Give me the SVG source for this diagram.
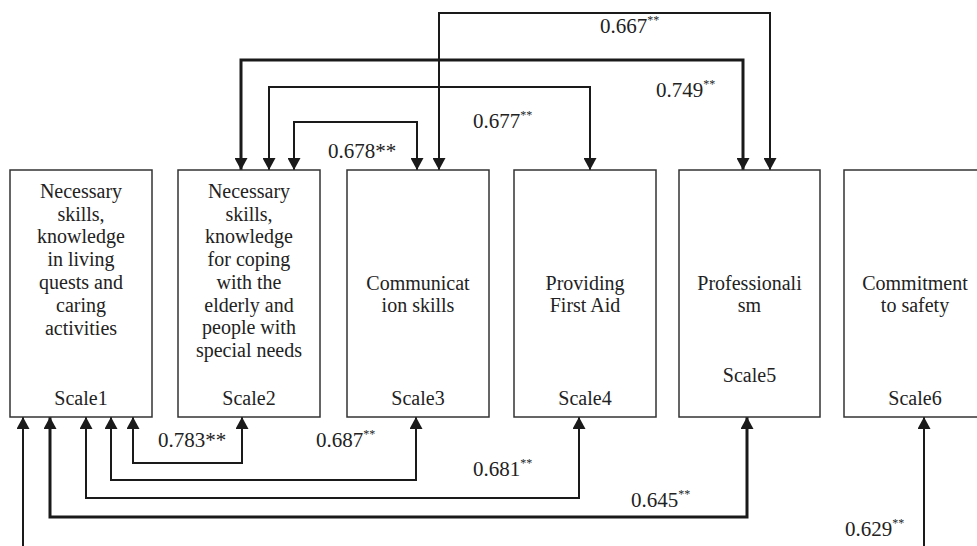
<svg xmlns="http://www.w3.org/2000/svg" width="977" height="546" viewBox="0 0 977 546" font-family="Liberation Serif, Times New Roman, serif">
<style>
.box{fill:#fff;stroke:#333;stroke-width:1.5}
.t{font-size:20px;fill:#222;text-anchor:middle}
.lbl{font-size:21px;fill:#222}
.sup{font-size:12px}
.c{fill:none;stroke:#1a1a1a;stroke-width:2;marker-start:url(#ah);marker-end:url(#ah)}
.thick{stroke-width:3}
</style>
<defs>
<marker id="ah" markerUnits="userSpaceOnUse" markerWidth="13" markerHeight="13" refX="12" refY="6.5" orient="auto-start-reverse" viewBox="0 0 13 13">
<path d="M0,0 L12,6.5 L0,13 z" fill="#1a1a1a"/>
</marker>
</defs>
<rect width="977" height="546" fill="#fff"/>
<g id="connectors">
<path class="c" d="M439,170 V13 H770 V170"/>
<path class="c thick" d="M241,170 V60 H743 V170"/>
<path class="c" d="M269,170 V87 H590 V170"/>
<path class="c" d="M294,170 V122 H417 V170"/>
<path class="c" d="M133,417 V463 H242 V417"/>
<path class="c" d="M111,417 V480 H416 V417"/>
<path class="c" d="M86,417 V498 H579 V417"/>
<path class="c thick" d="M50,417 V517 H747 V417"/>
<path class="c" d="M23,417 V560 H924 V417"/>
<text class="lbl" x="600" y="33">0.667<tspan class="sup" dy="-9">**</tspan></text>
<text class="lbl" x="656" y="97">0.749<tspan class="sup" dy="-9">**</tspan></text>
<text class="lbl" x="473" y="128">0.677<tspan class="sup" dy="-9">**</tspan></text>
<text class="lbl" x="328" y="158">0.678**</text>
<text class="lbl" x="158" y="447">0.783**</text>
<text class="lbl" x="316" y="447">0.687<tspan class="sup" dy="-9">**</tspan></text>
<text class="lbl" x="473" y="476">0.681<tspan class="sup" dy="-9">**</tspan></text>
<text class="lbl" x="631" y="507">0.645<tspan class="sup" dy="-9">**</tspan></text>
<text class="lbl" x="845" y="536">0.629<tspan class="sup" dy="-9">**</tspan></text>
</g>
<g id="scale1">
<rect class="box" x="10" y="170" width="142" height="247"/>
<text class="t" x="81" y="198">Necessary</text>
<text class="t" x="81" y="221">skills,</text>
<text class="t" x="81" y="243">knowledge</text>
<text class="t" x="81" y="266">in living</text>
<text class="t" x="81" y="289">quests and</text>
<text class="t" x="81" y="312">caring</text>
<text class="t" x="81" y="335">activities</text>
<text class="t" x="81" y="405">Scale1</text>
</g>
<g id="scale2">
<rect class="box" x="178" y="170" width="142" height="247"/>
<text class="t" x="249" y="198">Necessary</text>
<text class="t" x="249" y="221">skills,</text>
<text class="t" x="249" y="243">knowledge</text>
<text class="t" x="249" y="266">for coping</text>
<text class="t" x="249" y="289">with the</text>
<text class="t" x="249" y="312">elderly and</text>
<text class="t" x="249" y="334">people with</text>
<text class="t" x="249" y="357">special needs</text>
<text class="t" x="249" y="405">Scale2</text>
</g>
<g id="scale3">
<rect class="box" x="347" y="170" width="142" height="247"/>
<text class="t" x="418" y="290">Communicat</text>
<text class="t" x="418" y="312">ion skills</text>
<text class="t" x="418" y="405">Scale3</text>
</g>
<g id="scale4">
<rect class="box" x="514" y="170" width="142" height="247"/>
<text class="t" x="585" y="290">Providing</text>
<text class="t" x="585" y="312">First Aid</text>
<text class="t" x="585" y="405">Scale4</text>
</g>
<g id="scale5">
<rect class="box" x="679" y="170" width="141" height="247"/>
<text class="t" x="749.5" y="290">Professionali</text>
<text class="t" x="749.5" y="312">sm</text>
<text class="t" x="749.5" y="382">Scale5</text>
</g>
<g id="scale6">
<rect class="box" x="844" y="170" width="142" height="247"/>
<text class="t" x="915" y="290">Commitment</text>
<text class="t" x="915" y="312">to safety</text>
<text class="t" x="915" y="405">Scale6</text>
</g>
</svg>
